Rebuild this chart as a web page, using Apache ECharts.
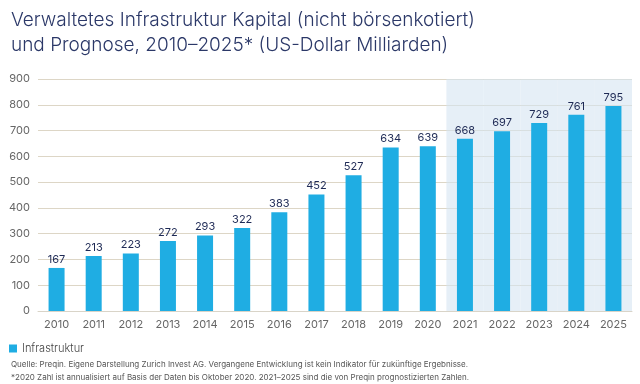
<!DOCTYPE html>
<html><head><meta charset="utf-8">
<script src="https://cdn.jsdelivr.net/npm/echarts@6/dist/echarts.min.js"></script>
<style>html,body{margin:0;padding:0;background:#fff}#c{width:640px;height:384px}</style>
</head><body><div id="c"></div>
<script>
const categories = ['2010','2011','2012','2013','2014','2015','2016','2017','2018','2019','2020','2021','2022','2023','2024','2025'];
const values = [167,213,223,272,293,322,383,452,527,634,639,668,697,729,761,795];
const forecastYears = ['2021','2022','2023','2024','2025'];
const yTicks = [0,100,200,300,400,500,600,700,800,900];
const seriesName = 'Infrastruktur';
const titleLines = ['Verwaltetes Infrastruktur Kapital (nicht börsenkotiert)','und Prognose, 2010–2025* (US-Dollar Milliarden)'];
const footnotes = ['Quelle: Preqin. Eigene Darstellung Zurich Invest AG. Vergangene Entwicklung ist kein Indikator für zukünftige Ergebnisse.','*2020 Zahl ist annualisiert auf Basis der Daten bis Oktober 2020. 2021–2025 sind die von Preqin prognostizierten Zahlen.'];

const yMax = yTicks[yTicks.length-1];
const shade = categories.map(c => forecastYears.includes(c) ? yMax : null);
const FONT = 'Inter, "Noto Sans", sans-serif';
const chart = echarts.init(document.getElementById('c'), null, {renderer:'canvas'});
chart.setOption({
  animation:false,
  textStyle:{fontFamily:FONT},
  title:[
    {text:titleLines.join('\n'), left:6, top:3, textStyle:{fontFamily:FONT, fontSize:19, fontWeight:300, color:'#2b3868', lineHeight:25}},
    {text:footnotes.join('\n'), left:6, top:353, textStyle:{fontFamily:FONT, fontSize:8, fontWeight:'normal', color:'#555', lineHeight:13}}
  ],
  legend:{data:[seriesName], left:4, top:338, itemWidth:8, itemHeight:8, icon:'rect', itemGap:6,
    textStyle:{fontFamily:FONT, fontSize:11, fontWeight:300, color:'#444'}},
  grid:{left:38, right:8, top:79, bottom:73, containLabel:false},
  xAxis:[
    {type:'category', data:categories, axisTick:{show:false}, axisLine:{lineStyle:{color:'#d9d4c8'}},
      axisLabel:{color:'#666', fontSize:11, margin:8, fontFamily:FONT}},
    {type:'category', data:categories, show:false}
  ],
  yAxis:{type:'value', min:0, max:yMax, interval:100, axisLine:{show:false}, axisTick:{show:false},
    splitLine:{lineStyle:{color:'#ddd6c6', width:1}},
    axisLabel:{color:'#666', fontSize:11, margin:8, fontFamily:FONT}},
  series:[
    {type:'bar', xAxisIndex:1, data:shade, barWidth:'100%', silent:true, z:0,
      itemStyle:{color:'rgba(214,229,242,0.6)'}, legendHoverLink:false, tooltip:{show:false}},
    {name:seriesName, type:'bar', data:values, barWidth:16, z:2,
      itemStyle:{color:'#1fade3'},
      label:{show:true, position:'top', distance:3, color:'#1e2a55', fontSize:11, fontFamily:FONT}}
  ]
});
</script></body></html>
